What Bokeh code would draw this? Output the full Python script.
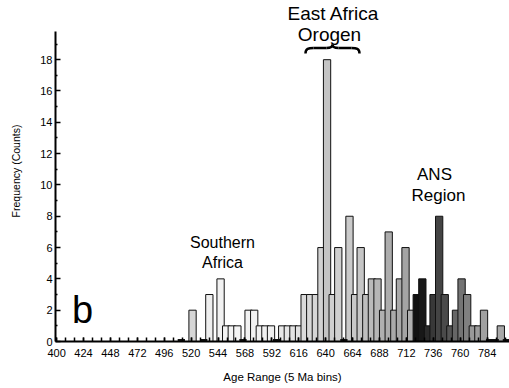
from bokeh.plotting import figure
from bokeh.models import Range1d, FixedTicker, Label, ColumnDataSource
from bokeh.embed import file_html
from bokeh.resources import INLINE

# ---- data ----
bin_start = [508, 518, 528, 533, 543, 548, 553, 558, 563, 568, 573, 578, 583, 588, 593,
             598, 603, 608, 613, 618, 623, 628, 633, 638, 643, 648, 653, 658, 663, 668,
             673, 678, 683, 688, 693, 698, 703, 708, 713, 718, 723, 728, 733, 738, 743,
             748, 753, 758, 763, 768, 773, 778, 783, 788, 793, 798]
counts = [0, 2, 0, 3, 4, 1, 1, 1, 0, 2, 2, 1, 1, 1, 0,
          1, 1, 1, 1, 3, 3, 3, 6, 18, 3, 6, 0, 8, 3, 6,
          3, 4, 4, 2, 7, 2, 4, 6, 2, 3, 4, 1, 3, 8, 3,
          1, 2, 4, 3, 1, 1, 2, 0, 0, 1, 0]
x_ticks = [400, 424, 448, 472, 496, 520, 544, 568, 592, 616, 640, 664, 688, 712, 736, 760, 784]
y_ticks = [0, 2, 4, 6, 8, 10, 12, 14, 16, 18]

# ---- styles ----
bar_colors = ["#000000", "#d6d6d6", "#000000", "#efefef", "#f2f2f2", "#f4f4f4", "#f4f4f4", "#f4f4f4", "#000000",
              "#f2f2f2", "#f2f2f2", "#f0f0f0", "#f0f0f0", "#f0f0f0", "#000000",
              "#e8e8e8", "#e6e6e6", "#e4e4e4", "#e2e2e2", "#dadada", "#d8d8d8", "#d6d6d6", "#d2d2d2",
              "#c4c4c4", "#d0d0d0", "#d0d0d0", "#000000", "#cacaca", "#c8c8c8", "#c6c6c6",
              "#bebebe", "#bababa", "#b6b6b6", "#b0b0b0", "#acacac", "#aaaaaa", "#a8a8a8", "#a4a4a4",
              "#b0b0b0", "#111111", "#181818", "#2a2a2a", "#383838", "#444444", "#4a4a4a",
              "#555555", "#666666", "#747474", "#808080", "#999999", "#9c9c9c", "#a0a0a0",
              "#000000", "#000000", "#a8a8a8", "#000000"]
BAR_W = 6.5
FONT = "Liberation Sans"
Y_TOP = 19.8  # top of the drawn y axis

p = figure(width=509, height=388, output_backend="svg", toolbar_location=None,
           x_range=Range1d(399, 804), y_range=Range1d(0, Y_TOP * 341 / 310),
           min_border_left=55, min_border_right=0, min_border_top=0, min_border_bottom=47)
p.outline_line_color = None
p.xgrid.visible = False
p.ygrid.visible = False
p.background_fill_color = "white"
p.border_fill_color = "white"

nz = [i for i, c in enumerate(counts) if c > 0]
z = [i for i, c in enumerate(counts) if c == 0]
src = ColumnDataSource(dict(
    left=[bin_start[i] for i in nz],
    right=[bin_start[i] + BAR_W for i in nz],
    top=[counts[i] for i in nz],
    color=[bar_colors[i] for i in nz],
))
p.quad(left="left", right="right", bottom=0, top="top", source=src,
       fill_color="color", line_color="#111111", line_width=1)
zsrc = ColumnDataSource(dict(
    x0=[bin_start[i] for i in z],
    x1=[bin_start[i] + BAR_W for i in z],
    y=[counts[i] for i in z],
))
p.segment(x0="x0", x1="x1", y0="y", y1="y", source=zsrc, line_color="#111111", line_width=5)

# axes
xa = p.xaxis[0]
xa.ticker = FixedTicker(ticks=x_ticks, minor_ticks=list(range(400, 805, 8)))
ya = p.yaxis[0]
ya.ticker = FixedTicker(ticks=y_ticks, minor_ticks=list(range(1, 20, 2)))
for ax in (xa, ya):
    ax.axis_line_width = 2
    ax.axis_line_color = "black"
    ax.major_tick_line_color = "black"
    ax.minor_tick_line_color = "black"
    ax.major_tick_line_width = 1.5
    ax.minor_tick_line_width = 1.5
    ax.major_tick_out = 0
    ax.minor_tick_out = 0
    ax.major_label_text_font = FONT
    ax.major_label_text_font_size = "11px"
    ax.major_label_text_color = "black"
    ax.axis_label_text_font = FONT
    ax.axis_label_text_font_style = "normal"
    ax.axis_label_text_color = "black"
xa.major_tick_in = 4
xa.minor_tick_in = 4
ya.major_tick_in = 5
ya.minor_tick_in = 2
xa.axis_label = "Age Range (5 Ma bins)"
xa.axis_label_text_font_size = "11.5px"
xa.major_label_standoff = 7
xa.axis_label_standoff = 11
ya.axis_label = "Frequency (Counts)"
ya.axis_label_text_font_size = "10.5px"
ya.major_label_standoff = 3
ya.axis_label_standoff = 15
ya.bounds = (0, Y_TOP)

def X(px):
    return 399 + (px - 55) * 405 / 454
def Y(py):
    return (341 - py) * Y_TOP / 310

# annotations (baseline pixel positions)
def lab(cx, base, t, size=17):
    p.add_layout(Label(x=X(cx), y=Y(base - 0.37 * size), text=t, text_font=FONT,
                       text_font_size=f"{size}px", text_align="center",
                       text_baseline="alphabetic", text_color="black"))

lab(333, 20, "East Africa", 19)
lab(329, 41, "Orogen", 19)
lab(434, 180, "ANS")
lab(438, 201, "Region")
lab(222, 248, "Southern", 16)
lab(222, 268, "Africa", 16)
lab(82, 324, "b", size=38)

# brace over the East Africa Orogen peak
bz = dict(
    x0=[X(305), X(326), X(332), X(351)],
    y0=[Y(53), Y(47.5), Y(44), Y(47.5)],
    x1=[X(313), X(332), X(338), X(359)],
    y1=[Y(47.5), Y(44), Y(47.5), Y(53)],
    cx0=[X(305), X(330), X(332), X(356)],
    cy0=[Y(48), Y(47.5), Y(46), Y(47.5)],
    cx1=[X(308), X(332), X(334), X(359)],
    cy1=[Y(47.5), Y(46), Y(47.5), Y(48)],
)
p.bezier(x0="x0", y0="y0", x1="x1", y1="y1", cx0="cx0", cy0="cy0", cx1="cx1", cy1="cy1",
         source=ColumnDataSource(bz), line_color="black", line_width=2.5)
p.segment(x0=[X(313), X(338)], y0=[Y(47.5), Y(47.5)], x1=[X(326), X(351)], y1=[Y(47.5), Y(47.5)],
          line_color="black", line_width=2.5)

open("out.html", "w").write(file_html(p, INLINE))
